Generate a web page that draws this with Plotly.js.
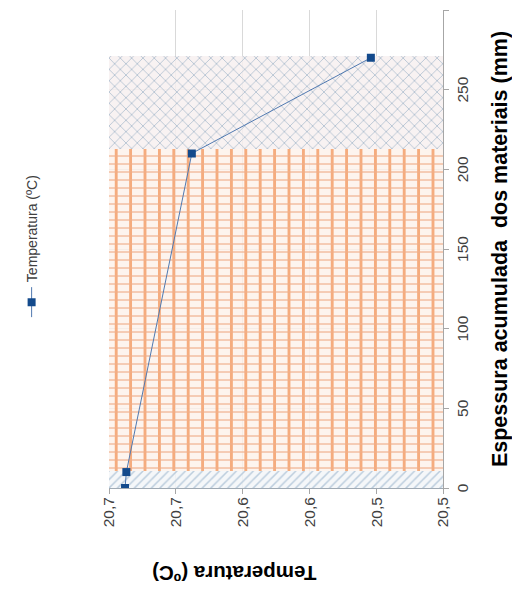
<!DOCTYPE html>
<html><head><meta charset="utf-8">
<script src="https://cdn.plot.ly/plotly-3.0.1.min.js"></script>
<style>
html,body{margin:0;padding:0;overflow:hidden;background:#fff;width:512px;height:596px;}
#chart{position:absolute;left:0;top:0;width:596px;height:512px;transform-origin:0 0;transform:translate(0,596px) rotate(-90deg);}
</style></head><body><div id="chart"></div>
<script>
// Data (original orientation: thickness on x, temperature on y; page is rotated -90deg)
const thickness = [0, 10, 210, 270];
const temperature = [20.688, 20.687, 20.638, 20.504];
const seriesName = 'Temperatura (ºC)';
// material layers (cumulative thickness bounds, mm)
const layerStart = [0, 10.5, 213];
const layerEnd = [10.5, 213, 271];
// axes
const tempTicks = [20.45, 20.5, 20.55, 20.6, 20.65, 20.7];
const tempTickText = ['20,5', '20,5', '20,6', '20,6', '20,7', '20,7'];
const thickTicks = [0, 50, 100, 150, 200, 250, 300];
const tempRange = [20.45, 20.70];
const thickRange = [0, 300];
const xTitle = 'Espessura acumulada\u00a0 dos materiais (mm)';
const yTitle = 'Temperatura (ºC)';

function layerBar(i, pattern, color) {
  return {
    type: 'bar',
    x: [(layerStart[i] + layerEnd[i]) / 2],
    width: [layerEnd[i] - layerStart[i]],
    base: [tempRange[0]],
    y: [tempRange[1] - tempRange[0]],
    marker: {color: color, line: {width: 0}, pattern: pattern},
    showlegend: false,
    hoverinfo: 'skip'
  };
}

const traces = [
  layerBar(0, {shape: '\\', fgcolor: '#bccddd', bgcolor: 'rgba(244,246,248,0.85)', size: 6, solidity: 0.25}, '#f4f6f8'),
  layerBar(1, {shape: '-', fgcolor: '#f4a472', bgcolor: 'rgba(252,241,234,0.8)', size: 14.4, solidity: 0.2, fgopacity: 0.9}, '#fcf1ea'),
  layerBar(1, {shape: '|', fgcolor: '#f0ae88', bgcolor: 'rgba(0,0,0,0)', size: 8, solidity: 0.16, fgopacity: 0.9}, 'rgba(0,0,0,0)'),
  layerBar(2, {shape: 'x', fgcolor: '#b9c6d4', bgcolor: 'rgba(247,240,240,0.85)', size: 8, solidity: 0.22}, '#f7f0f0'),
  {
    type: 'scatter',
    mode: 'lines+markers',
    name: seriesName,
    x: thickness,
    y: temperature,
    line: {color: '#5079b0', width: 1},
    marker: {symbol: 'square', size: 8, color: '#134a8c'},
    hoverinfo: 'x+y'
  }
];

const layout = {
  width: 596, height: 512,
  margin: {l: 108, r: 10, t: 109, b: 69, pad: 0},
  paper_bgcolor: '#ffffff', plot_bgcolor: '#ffffff',
  font: {family: 'Liberation Sans, Arial, sans-serif', color: '#404040'},
  barmode: 'overlay', bargap: 0,
  showlegend: true,
  legend: {orientation: 'h', x: 0.347, y: 1.2305, xanchor: 'left', yanchor: 'middle',
           font: {size: 14, color: '#404040'}, bgcolor: 'rgba(0,0,0,0)'},
  xaxis: {
    range: thickRange, tickvals: thickTicks, ticks: 'outside', ticklen: 5, tickcolor: '#a6a6a6',
    showline: true, linecolor: '#a6a6a6', linewidth: 1, showgrid: true, gridcolor: '#d9d9d9',
    zeroline: false, tickfont: {size: 15.5, color: '#404040'},
    title: {text: xTitle, font: {size: 21.5, color: '#000', weight: 700}, standoff: 24}
  },
  yaxis: {
    range: tempRange, tickvals: tempTicks, ticktext: tempTickText, ticks: 'outside', ticklen: 5, tickcolor: '#a6a6a6',
    showline: true, linecolor: '#a0aab4', linewidth: 1, showgrid: true, gridcolor: '#d9d9d9',
    zeroline: false, tickfont: {size: 15.5, color: '#404040'}
  },
  annotations: [{
    text: yTitle, textangle: -90, xref: 'paper', yref: 'paper',
    x: -0.1789, y: 0.6257, xanchor: 'center', yanchor: 'middle', showarrow: false,
    font: {size: 20.5, color: '#000', weight: 700, family: 'Liberation Sans, Arial, sans-serif'}
  }]
};

Plotly.newPlot('chart', traces, layout, {displayModeBar: false, staticPlot: true});
</script></body></html>
